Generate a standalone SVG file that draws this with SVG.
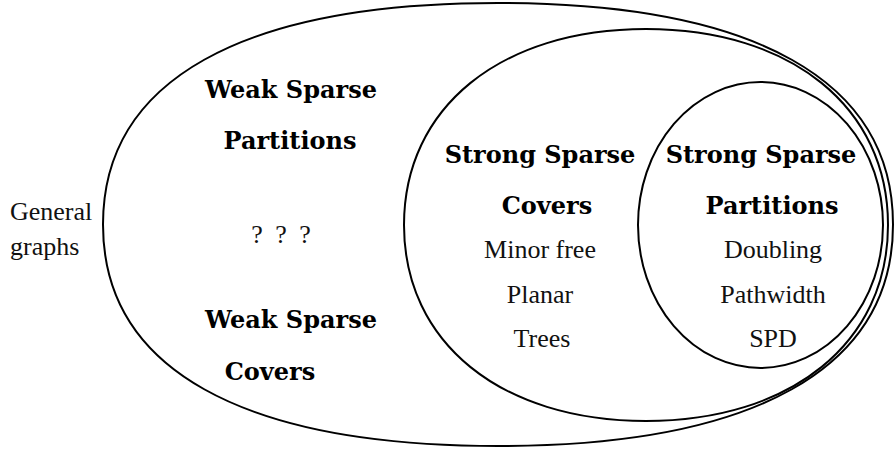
<svg xmlns="http://www.w3.org/2000/svg" width="894" height="451" viewBox="0 0 894 451">
<style>
.shape{fill:none;stroke:#000;stroke-width:2}
text{font-family:"Liberation Serif","DejaVu Serif",serif;font-size:26px;fill:#111}
.b{font-family:"DejaVu Serif","Liberation Serif",serif;font-weight:bold;font-size:24px;fill:#000}
.c{text-anchor:middle}
.q{word-spacing:6px}
</style>
<rect width="894" height="451" fill="#fff"/>
<g id="general-graphs">
<path class="shape" d="M893,224.5 C893,80.5 754.75,3 498,3 C241.25,3 103,80.5 103,224.5 C103,368.5 241.25,446 498,446 C754.75,446 893,368.5 893,224.5 Z"/>
<text x="10" y="220">General</text>
<text x="10" y="255">graphs</text>
</g>
<g id="weak-sparse">
<text class="b c" x="291" y="98">Weak Sparse</text>
<text class="b c" x="290" y="149">Partitions</text>
<text class="c q" x="281" y="243">? ? ?</text>
<text class="b c" x="291" y="328">Weak Sparse</text>
<text class="b c" x="270" y="380">Covers</text>
</g>
<g id="strong-covers">
<path class="shape" d="M888,225 C888,107.4 791.2,29 646,29 C500.8,29 404,107.4 404,225 C404,342.6 500.8,421 646,421 C791.2,421 888,342.6 888,225 Z"/>
<text class="b c" x="540" y="163">Strong Sparse</text>
<text class="b c" x="547" y="214">Covers</text>
<text class="c" x="540" y="258">Minor free</text>
<text class="c" x="540" y="303">Planar</text>
<text class="c" x="542" y="347">Trees</text>
</g>
<g id="strong-partitions">
<ellipse class="shape" cx="760.5" cy="225" rx="122.5" ry="143"/>
<text class="b c" x="761" y="163">Strong Sparse</text>
<text class="b c" x="772" y="214">Partitions</text>
<text class="c" x="773" y="258">Doubling</text>
<text class="c" x="773" y="303">Pathwidth</text>
<text class="c" x="773" y="347">SPD</text>
</g>
</svg>
